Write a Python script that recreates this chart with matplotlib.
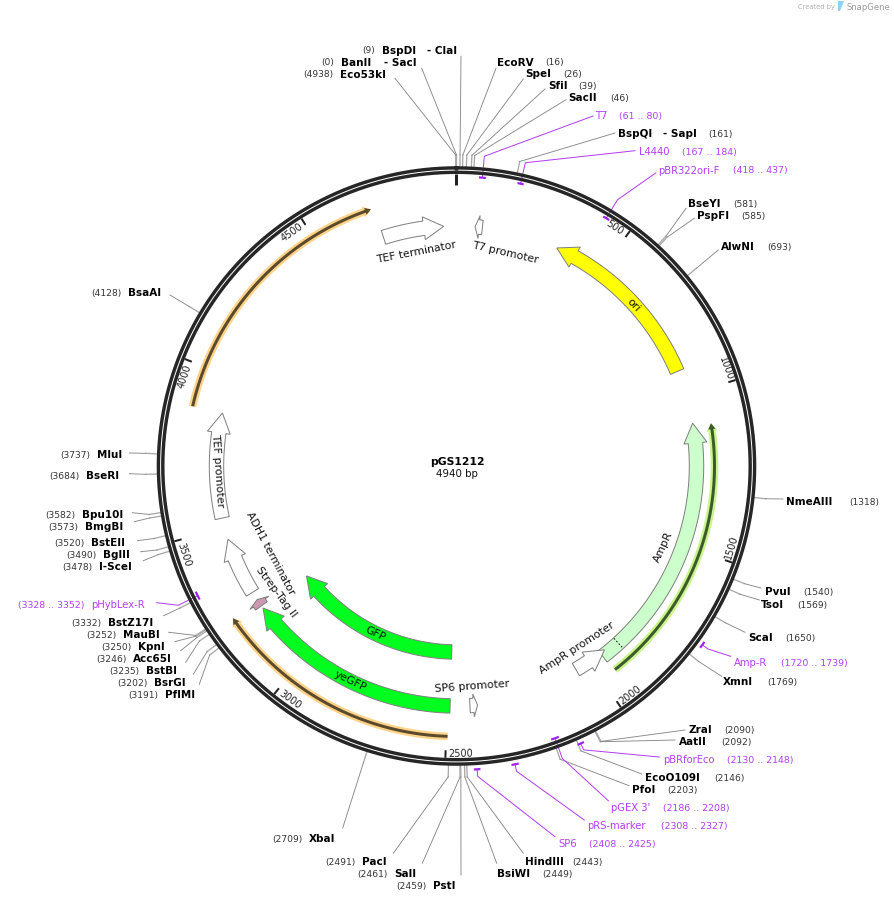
import numpy as np
import matplotlib
matplotlib.use('Agg')
import matplotlib.pyplot as plt
from matplotlib.patches import Polygon

plasmid_name = 'pGS1212'
plasmid_size = 4940

# thick annotated features: tail bp, tip bp
feature_names = ['ori', 'AmpR', 'AmpR promoter', 'yeGFP', 'GFP', 'Strep-Tag II', 'ADH1 terminator',
                 'TEF promoter', 'TEF terminator', 'T7 promoter', 'SP6 promoter']
feature_tails = [917, 1955, 2053, 2491, 2490, 3216, 3269, 3533, 4697, 85, 2426]
feature_tips = [339, 1094, 1937, 3207, 3208, 3241, 3461, 3880, 4898, 61, 2401]
feature_radii = [240, 240, 236, 240, 186, 240, 240, 240, 240, 240, 240]
feature_head_px = [20, 20, 20, 20, 20, 4, 20, 20, 20, 4, 4]
feature_colors = ['#ffff00', '#ccffcc', '#ffffff', '#00ff1e', '#00ff1e', '#cc99b2', '#ffffff',
                  '#ffffff', '#ffffff', '#ffffff', '#ffffff']
# where the feature names sit
feature_label_x = [633, 663, 577, 350, 375, 276, 270, 218, 416, 505, 472]
feature_label_y = [305, 547, 648, 681, 634, 592, 553, 471, 252, 253, 686]
feature_label_rot = [-47, 65, 33, -26, -25, -53, -62, -86, 11, -13, 4]

# thin highlighted arrows
thin_tails = [1950, 2496, 3880]
thin_tips = [1104, 3235, 4687]
thin_radii = [258, 270.5, 270.5]
thin_halo = ['#c8f58c', '#ffd48a', '#ffd48a']
thin_core = ['#3f5a2a', '#5c4a2c', '#5c4a2c']

tick_values = [500, 1000, 1500, 2000, 2500, 3000, 3500, 4000, 4500]

enzyme_names = ['BspDI', 'BanII', 'Eco53kI', 'EcoRV', 'SpeI', 'SfiI', 'SacII', 'BspQI', 'BseYI', 'PspFI',
                'AlwNI', 'NmeAIII', 'PvuI', 'TsoI', 'ScaI', 'XmnI', 'ZraI', 'AatII', 'EcoO109I', 'PfoI',
                'HindIII', 'BsiWI', 'PstI', 'SalI', 'PacI', 'XbaI', 'PflMI', 'BsrGI', 'BstBI', 'Acc65I',
                'KpnI', 'MauBI', 'BstZ17I', 'I-SceI', 'BglII', 'BstEII', 'BmgBI', 'Bpu10I', 'BseRI',
                'MluI', 'BsaAI']
enzyme_sites = [9, 0, 4938, 16, 26, 39, 46, 161, 581, 585,
                693, 1318, 1540, 1569, 1650, 1769, 2090, 2092, 2146, 2203,
                2443, 2449, 2459, 2461, 2491, 2709, 3191, 3202, 3235, 3246,
                3250, 3252, 3332, 3478, 3490, 3520, 3573, 3582, 3684,
                3737, 4128]
# label layout, same order as the enzymes
enzyme_name_x = [382, 341, 340, 497, 525, 548, 568, 618, 688, 697,
                 721, 786, 765, 761, 748, 723, 689, 679, 645, 632,
                 525, 497, 433, 394, 362, 309, 165, 154, 146, 133,
                 138, 123, 108, 99, 103, 91, 85, 82, 86,
                 97, 128]
enzyme_site_x = [362, 321, 303, 545, 563, 578, 610, 708, 733, 741,
                 767, 849, 803, 797, 785, 767, 724, 721, 714, 667,
                 572, 542, 396, 357, 325, 272, 128, 117, 109, 96,
                 101, 86, 71, 62, 66, 54, 48, 45, 49,
                 60, 91]
enzyme_y = [50.5, 62.5, 74.5, 62.5, 74, 86, 98, 134, 204, 216.5,
            247, 502, 592, 605, 638, 682, 730, 742, 778, 790,
            862, 874, 886, 874, 862, 839, 695, 683, 671, 659,
            647, 635, 623, 567, 555, 543, 527.5, 515.5, 476,
            455, 293]
enzyme_end_x = [461, 421.7, 395, 496, 523.3, 545, 566, 615, 686, 694.3,
                718.3, 783, 761, 759.3, 745, 721.7, 685, 675, 641.7, 629,
                523.3, 496.7, 461, 422.3, 393.3, 342.7, 199.3, 193.3, 185.7, 180.7,
                174.7, 168.7, 163.7, 143.3, 140.7, 137.3, 134.3, 132.3, 129.3,
                129.3, 170]
enzyme_end_y = [57.3, 69.3, 79.3, 69.3, 80, 90, 100.7, 134, 209.3, 219.3,
                251, 500, 589, 601, 633.3, 677.3, 731, 741, 775, 786.7,
                854.3, 864.3, 876, 864.3, 854.3, 829, 685.3, 675.3, 663.3, 651.7,
                642.7, 633.3, 616.7, 561.7, 552.7, 541.7, 522.7, 513.7, 474.7,
                454, 296]
second_names = {'BspDI': ('- ClaI', 426.7), 'BanII': ('- SacI', 384), 'BspQI': ('- SapI', 663.3)}

primer_names = ['T7', 'L4440', "pBR322ori-F", 'Amp-R', 'pBRforEco', "pGEX 3'", 'pRS-marker', 'SP6', 'pHybLex-R']
primer_starts = [61, 167, 418, 1720, 2130, 2186, 2308, 2408, 3328]
primer_ends = [80, 184, 437, 1739, 2148, 2208, 2327, 2425, 3352]
primer_radii = [289.5, 289.5, 289.5, 304, 304, 289.5, 304, 304, 289.5]
primer_name_x = [595, 639, 658, 734, 663, 611, 587, 558, 91]
primer_range_x = [619, 682, 733, 781, 727, 663, 661, 589, 18]
primer_y = [116, 152, 170.5, 663, 760, 808, 826, 844, 605.5]
primer_end_x = [593, 635, 655.7, 730.7, 659.3, 608.3, 584.3, 555, 156.7]
primer_end_y = [117, 151.7, 174, 657.3, 758, 801.7, 821, 837.7, 603.7]

CX, CY = 456.5, 467.0
KNEE = 311
PURPLE = '#b23ff0'
LEADER = '#888888'
PX = 0.72  # line widths below are given in pixels


def polar(bp, r):
    a = np.deg2rad(np.asarray(bp, dtype=float) / plasmid_size * 360)
    return CX + r * np.sin(a), CY - r * np.cos(a)


def arrow_outline(tail, tip, r, body, head, head_len):
    step = 1 if tip > tail else -1
    base = tip - step * np.rad2deg(head_len / r) / 360 * plasmid_size
    arc = np.linspace(tail, base, 120)
    xo, yo = polar(arc, r + body)
    xi, yi = polar(arc[::-1], r - body)
    xs = list(xo) + [polar(base, r + head)[0], polar(tip, r)[0], polar(base, r - head)[0]] + list(xi)
    ys = list(yo) + [polar(base, r + head)[1], polar(tip, r)[1], polar(base, r - head)[1]] + list(yi)
    return np.column_stack([xs, ys])


fig = plt.figure(figsize=(8.95, 9.03), dpi=100)
ax = fig.add_axes([0, 0, 1, 1])
ax.set_xlim(0, 895)
ax.set_ylim(903, 0)
ax.axis('off')

# restriction sites
for i in range(len(enzyme_names)):
    kx, ky = polar(enzyme_sites[i], KNEE)
    rx, ry = polar(enzyme_sites[i], 299)
    ax.plot([rx, kx], [ry, ky], color='#a8a8a8', lw=1.3 * PX, snap=False, zorder=1)
    ax.plot([kx, enzyme_end_x[i]], [ky, enzyme_end_y[i]], color=LEADER, lw=0.9 * PX, snap=False, zorder=1)
    ax.text(enzyme_name_x[i], enzyme_y[i], enzyme_names[i], fontsize=7.5, fontweight='bold', color='black',
            ha='left', va='center')
    ax.text(enzyme_site_x[i], enzyme_y[i] + 0.5, '(%d)' % enzyme_sites[i], fontsize=6.6, color='#333333',
            ha='left', va='center')
    if enzyme_names[i] in second_names:
        other, ox = second_names[enzyme_names[i]]
        ax.text(ox, enzyme_y[i], other, fontsize=7.5, fontweight='bold', color='black', ha='left', va='center')

# primers
for i in range(len(primer_names)):
    mid = (primer_starts[i] + primer_ends[i]) / 2
    xs, ys = polar(np.linspace(primer_starts[i], primer_ends[i], 12), primer_radii[i])
    ax.plot(xs, ys, color='#a020f0', lw=2.2 * PX, solid_capstyle='butt', zorder=4)
    kx, ky = polar(mid, KNEE)
    rx, ry = polar(mid, primer_radii[i])
    ax.plot([rx, kx, primer_end_x[i]], [ry, ky, primer_end_y[i]], color=PURPLE, lw=1.0 * PX, snap=False, zorder=2)
    ax.text(primer_name_x[i], primer_y[i], primer_names[i], fontsize=7.2, color=PURPLE, ha='left', va='center')
    ax.text(primer_range_x[i], primer_y[i] + 0.5, '(%d .. %d)' % (primer_starts[i], primer_ends[i]), fontsize=6.75,
            color=PURPLE, ha='left', va='center')

# backbone, two rings with a white gap
theta = np.linspace(0, plasmid_size, 721)
for r in (298.1, 293.7):
    xs, ys = polar(theta, r)
    ax.plot(xs, ys, color='#262626', lw=3.4 * PX, zorder=3)

# ticks
xs, ys = polar([0, 0], np.array([292, 281.5]))
ax.plot(xs, ys, color='#222222', lw=3.0 * PX, solid_capstyle='butt', zorder=3)
for t in tick_values:
    xs, ys = polar([t, t], np.array([292, 284.5]))
    ax.plot(xs, ys, color='#222222', lw=2.0 * PX, solid_capstyle='butt', zorder=3)
    lb = t - 3.0 / 360 * plasmid_size
    lx, ly = polar(lb, 286.5)
    a = lb / plasmid_size * 360
    rot = 180 - a if 90 < a < 270 else -a
    ax.text(lx, ly, str(t), fontsize=7.0, color='#222222', rotation=rot, rotation_mode='anchor',
            ha='center', va='center', zorder=5)

# features
for i in range(len(feature_names)):
    pts = arrow_outline(feature_tails[i], feature_tips[i], feature_radii[i], 7.2, 11.5, feature_head_px[i])
    ax.add_patch(Polygon(pts, closed=True, facecolor=feature_colors[i], edgecolor='#808080', lw=1.0 * PX, zorder=2))
    ax.text(feature_label_x[i], feature_label_y[i], feature_names[i], fontsize=7.8, color='#111111',
            rotation=feature_label_rot[i], rotation_mode='anchor', ha='center', va='center', zorder=5)

# signal peptide boundary inside AmpR
xs, ys = polar([1888, 1888], np.array([233.5, 246.5]))
ax.plot(xs, ys, color='black', lw=1.0 * PX, ls=(0, (1.5, 2)), zorder=3)

for i in range(len(thin_tails)):
    halo = arrow_outline(thin_tails[i], thin_tips[i], thin_radii[i], 3.8, 5.8, 8)
    core = arrow_outline(thin_tails[i], thin_tips[i], thin_radii[i], 1.5, 3.6, 6)
    ax.add_patch(Polygon(halo, closed=True, facecolor=thin_halo[i], edgecolor='none', zorder=2))
    ax.add_patch(Polygon(core, closed=True, facecolor=thin_core[i], edgecolor='none', zorder=2))

ax.text(457, 462, plasmid_name, fontsize=7.8, fontweight='bold', color='black', ha='center', va='center')
ax.text(457, 474, '%d bp' % plasmid_size, fontsize=7.4, color='#111111', ha='center', va='center')

# watermark
ax.text(798, 7.5, 'Created by', fontsize=4.8, color='#b0b0b0', ha='left', va='center')
ax.add_patch(Polygon([(838, 2), (844, 2), (842, 7), (840, 12), (838, 12)], closed=True,
                     facecolor='#8fd0f5', edgecolor='none'))
ax.text(846.5, 7.5, 'SnapGene', fontsize=6.1, color='#9a9a9a', ha='left', va='center')

fig.savefig('out.png', dpi=100, facecolor='white')
